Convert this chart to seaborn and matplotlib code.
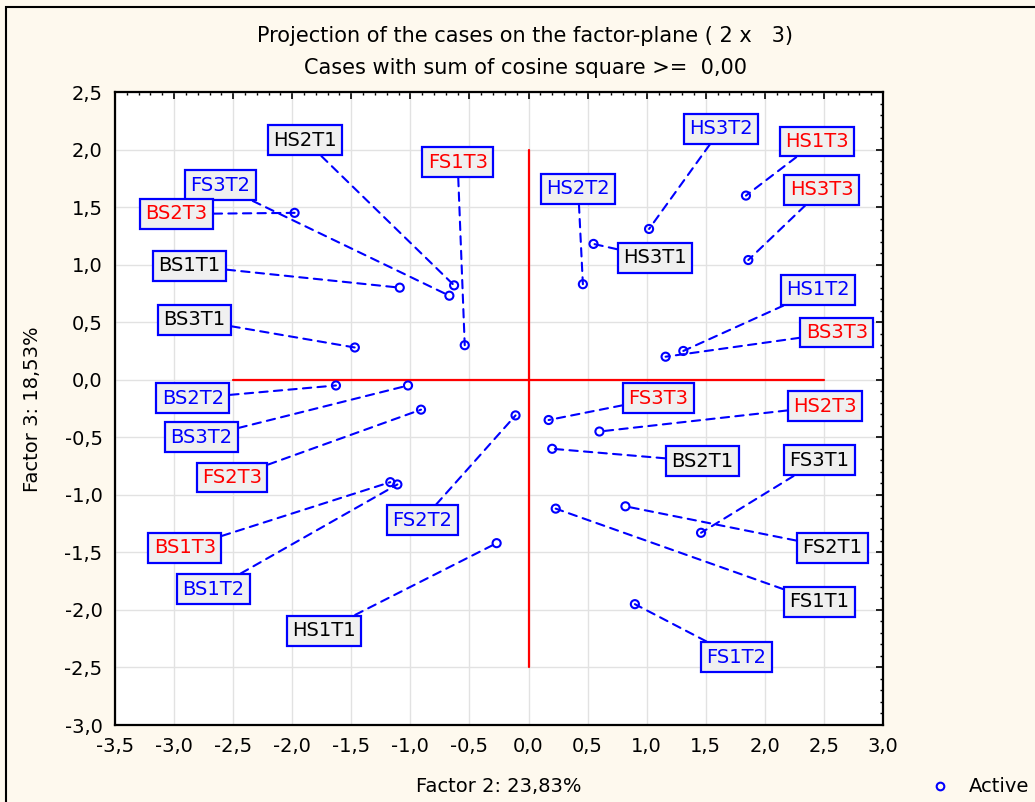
import matplotlib
matplotlib.use("Agg")
import matplotlib.pyplot as plt
import pandas as pd
import seaborn as sns
from matplotlib.ticker import MultipleLocator, FuncFormatter
from matplotlib.lines import Line2D
from matplotlib.patches import Rectangle

# Case coordinates on the factor plane (Factor 2 vs Factor 3)
cases = ["HS2T1", "FS1T3", "FS3T2", "BS2T3", "BS1T1", "BS3T1",
         "HS3T2", "HS1T3", "HS2T2", "HS3T3", "HS3T1", "HS1T2", "BS3T3",
         "BS2T2", "BS3T2", "FS2T3", "BS1T3", "BS1T2", "HS1T1", "FS2T2",
         "FS3T3", "HS2T3", "BS2T1", "FS3T1", "FS2T1", "FS1T1", "FS1T2"]
factor2 = [-0.63, -0.54, -0.67, -1.98, -1.09, -1.47,
           1.02, 1.84, 0.46, 1.86, 0.55, 1.31, 1.16,
           -1.63, -1.02, -0.91, -1.17, -1.11, -0.27, -0.11,
           0.17, 0.60, 0.20, 1.46, 0.82, 0.23, 0.90]
factor3 = [0.82, 0.30, 0.73, 1.45, 0.80, 0.28,
           1.31, 1.60, 0.83, 1.04, 1.18, 0.25, 0.20,
           -0.05, -0.05, -0.26, -0.89, -0.91, -1.42, -0.31,
           -0.35, -0.45, -0.60, -1.33, -1.10, -1.12, -1.95]

# Where each case label box sits (data units)
label_x = [-1.89, -0.60, -2.61, -2.98, -2.87, -2.83,
           1.63, 2.44, 0.42, 2.48, 1.07, 2.45, 2.61,
           -2.84, -2.77, -2.51, -2.91, -2.67, -1.73, -0.90,
           1.10, 2.51, 1.47, 2.46, 2.57, 2.46, 1.76]
label_y = [2.08, 1.89, 1.69, 1.44, 0.99, 0.52,
           2.18, 2.07, 1.66, 1.65, 1.06, 0.78, 0.41,
           -0.16, -0.50, -0.85, -1.46, -1.82, -2.18, -1.22,
           -0.16, -0.23, -0.71, -0.70, -1.46, -1.93, -2.41]

title_lines = ["Projection of the cases on the factor-plane ( 2 x   3)",
               "Cases with sum of cosine square >=  0,00"]
x_label = "Factor 2: 23,83%"
y_label = "Factor 3: 18,53%"
legend_label = "Active"

time_colors = {"T1": "black", "T2": "blue", "T3": "red"}

df = pd.DataFrame({"case": cases, "f2": factor2, "f3": factor3})

sns.set_style("white")
plt.rcParams["font.family"] = ["DejaVu Sans"]
plt.rcParams["text.color"] = "black"
plt.rcParams["axes.labelcolor"] = "black"
plt.rcParams["xtick.color"] = "black"
plt.rcParams["ytick.color"] = "black"

W, H = 1035, 802
fig = plt.figure(figsize=(W / 100, H / 100), dpi=100, facecolor="#FEF9EE")
ax = fig.add_axes([115 / W, 1 - 725 / H, (883 - 115) / W, (725 - 92) / H])
ax.set_facecolor("white")

ax.set_xlim(-3.5, 3.0)
ax.set_ylim(-3.0, 2.5)
ax.xaxis.set_major_locator(MultipleLocator(0.5))
ax.yaxis.set_major_locator(MultipleLocator(0.5))
ax.xaxis.set_minor_locator(MultipleLocator(0.1))
ax.yaxis.set_minor_locator(MultipleLocator(0.1))
fmt = FuncFormatter(lambda v, p: f"{v:.1f}".replace(".", ","))
ax.xaxis.set_major_formatter(fmt)
ax.yaxis.set_major_formatter(fmt)
ax.grid(True, which="major", color="#e2e2e2", lw=1.0, zorder=0)
ax.set_axisbelow(True)
ax.tick_params(which="both", direction="in", top=True, right=True,
               color="black", labelcolor="black")
ax.tick_params(which="major", length=5, width=1.2, labelsize=14, pad=9)
ax.tick_params(which="minor", length=2.5, width=1.0)
for sp in ax.spines.values():
    sp.set_color("black")
    sp.set_linewidth(1.6)
    sp.set_visible(True)

# Red reference cross through the origin
ax.plot([-2.5, 2.5], [0, 0], color="red", lw=1.6, zorder=2)
ax.plot([0, 0], [-2.5, 2.0], color="red", lw=1.6, zorder=2)

# Case labels with dashed leaders to their points
for name, px, py, lx, ly in zip(cases, factor2, factor3, label_x, label_y):
    ax.annotate(name, xy=(px, py), xytext=(lx, ly), textcoords="data",
                ha="center", va="center", fontsize=14,
                color=time_colors[name[-2:]], zorder=5,
                bbox=dict(boxstyle="square,pad=0.28", fc="#f0f0f0",
                          ec="blue", lw=1.6),
                arrowprops=dict(arrowstyle="-", color="blue", lw=1.5,
                                linestyle=(0, (4, 3)), shrinkA=0, shrinkB=0))

sns.scatterplot(data=df, x="f2", y="f3", ax=ax, marker="o", s=34,
                facecolor="none", edgecolor="blue", linewidth=1.5,
                zorder=6, legend=False)
ax.set_xlabel("")
ax.set_ylabel("")

fig.text(525 / W, 1 - 36 / H, title_lines[0], ha="center", va="center",
         fontsize=15, color="black")
fig.text(525 / W, 1 - 68 / H, title_lines[1], ha="center", va="center",
         fontsize=15, color="black")
fig.text(499 / W, 1 - 787 / H, x_label, ha="center", va="center",
         fontsize=14, color="black")
fig.text(33 / W, 1 - 409 / H, y_label, ha="center", va="center",
         fontsize=14, rotation=90, color="black")

handle = Line2D([], [], marker="o", ls="", mfc="none", mec="blue",
                mew=1.5, ms=5.5)
fig.legend([handle], [legend_label], loc="center",
           bbox_to_anchor=(980 / W, 1 - 787 / H), frameon=False,
           fontsize=14, handlelength=1.0, handletextpad=1.0,
           labelcolor="black")

# Outer frame of the graph window
fig.add_artist(Rectangle((6 / W, -0.05), 1.2, (H - 7) / H + 0.05,
                         transform=fig.transFigure, fill=False,
                         ec="black", lw=1.5))

fig.savefig("out.png", dpi=100, facecolor=fig.get_facecolor())
